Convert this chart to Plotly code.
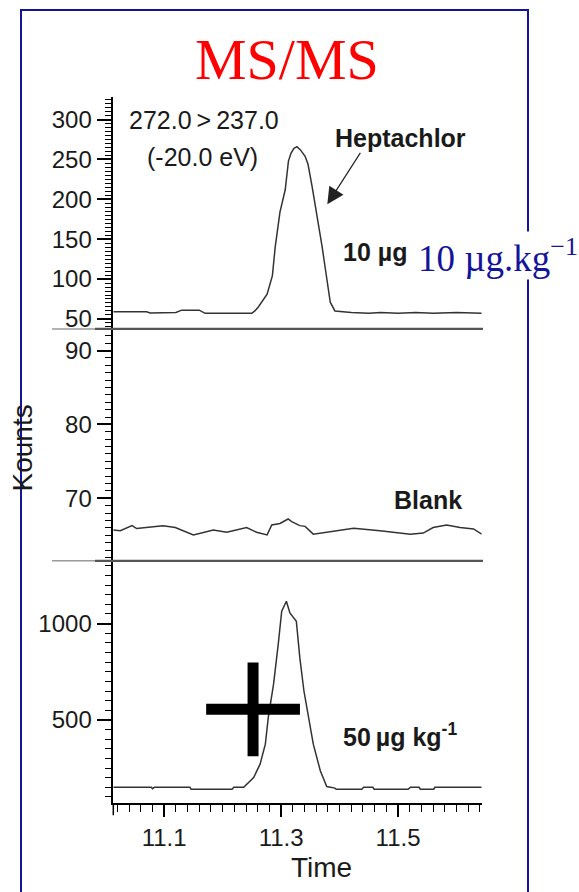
import plotly.graph_objects as go

W, H = 579, 892

# ---------------- data ----------------
# Top panel: 10 ug/kg Heptachlor, 272.0>237.0
t_top = [11.013, 11.07, 11.076, 11.10, 11.12, 11.13, 11.16, 11.17, 11.25, 11.255,
         11.261, 11.276, 11.285, 11.290, 11.298, 11.307, 11.3125, 11.317, 11.322,
         11.327, 11.333, 11.341, 11.346, 11.353, 11.362, 11.370, 11.379, 11.384,
         11.392, 11.42, 11.45, 11.47, 11.50, 11.53, 11.56, 11.60, 11.643]
c_top = [59, 59, 57.5, 57.5, 58, 61, 61, 57, 57, 60,
         65, 81, 104, 141, 184, 212, 248, 258, 264,
         266, 262, 254, 244, 216, 179, 141, 96, 71,
         60, 58, 57, 58, 57, 58, 57, 58, 57]

# Middle panel: blank
t_mid = [11.013, 11.025, 11.045, 11.053, 11.098, 11.119, 11.150, 11.184, 11.207,
         11.241, 11.258, 11.276, 11.284, 11.298, 11.312, 11.318, 11.332, 11.341,
         11.355, 11.378, 11.424, 11.469, 11.521, 11.543, 11.560, 11.583, 11.606,
         11.629, 11.643]
c_mid = [65.7, 65.6, 66.3, 65.9, 66.3, 66.05, 65.05, 65.7, 65.4,
         66.05, 65.4, 65.05, 66.4, 66.6, 67.2, 66.85, 66.3, 66.2,
         65.15, 65.4, 65.95, 65.6, 65.15, 65.3, 66.05, 66.4, 66.05,
         65.85, 65.15]

# Bottom panel: 50 ug/kg
t_bot = [11.013, 11.078, 11.080, 11.083, 11.144, 11.146, 11.216, 11.219, 11.236,
         11.241, 11.253, 11.264, 11.273, 11.278, 11.287, 11.295, 11.301, 11.309,
         11.315, 11.326, 11.332, 11.339, 11.347, 11.355, 11.367, 11.378, 11.392,
         11.394, 11.438, 11.441, 11.457, 11.459, 11.517, 11.521, 11.536, 11.538,
         11.561, 11.563, 11.643]
c_bot = [150, 150, 143, 150, 150, 140, 140, 150, 150,
         164, 201, 270, 374, 512, 684, 891, 1064, 1116,
         1055, 1012, 822, 650, 512, 374, 236, 154, 146,
         140, 140, 150, 150, 140, 140, 150, 150, 140,
         140, 150, 150]

# cross mark in bottom panel
cross_t = [11.252]
cross_c = [555]

x_range = [11.013, 11.643]
r_top = [37.5, 328.75]
r_mid = [61.54, 92.93]
r_bot = [67, 1326]

# ---------------- helpers ----------------
def px(x):
    return x / W

def py(y):
    return 1 - y / H

SANS = "Liberation Sans, Arial, sans-serif"
SERIF = "Liberation Serif, Times New Roman, serif"
LINE = "#333333"
TXT = "#1a1a1a"

fig = go.Figure()
fig.add_trace(go.Scatter(x=t_top, y=c_top, mode="lines", xaxis="x", yaxis="y",
                         line=dict(color=LINE, width=1.5), showlegend=False))
fig.add_trace(go.Scatter(x=t_mid, y=c_mid, mode="lines", xaxis="x", yaxis="y2",
                         line=dict(color=LINE, width=1.5), showlegend=False))
fig.add_trace(go.Scatter(x=t_bot, y=c_bot, mode="lines", xaxis="x", yaxis="y3",
                         line=dict(color=LINE, width=1.5), showlegend=False))
fig.add_trace(go.Scatter(x=cross_t, y=cross_c, mode="markers", xaxis="x", yaxis="y3",
                         marker=dict(symbol="cross-thin", size=67,
                                     line=dict(color="black", width=11)),
                         showlegend=False))

x0d, x1d = px(113.3), px(481.7)
d_top = [py(330), py(97)]
d_mid = [py(562.7), py(330)]
d_bot = [py(806), py(562.7)]

tickfont = dict(family=SANS, size=24, color=TXT)

def yaxis(domain, rng, dtick, mdtick):
    return dict(domain=domain, range=rng, anchor="x", showline=True, linecolor="black",
                linewidth=1.5, ticks="outside", ticklen=15, tickwidth=1.5, tickcolor="black",
                dtick=dtick, tick0=0, showgrid=False, zeroline=False, tickfont=tickfont,
                minor=dict(dtick=mdtick, ticks="outside", ticklen=7, tickwidth=1.2,
                           tickcolor="black", showgrid=False))

fig.update_layout(
    width=W, height=H, margin=dict(l=0, r=0, t=0, b=0),
    paper_bgcolor="white", plot_bgcolor="white",
    xaxis=dict(domain=[x0d, x1d], range=x_range, anchor="y3", showline=True,
               linecolor="black", linewidth=1.5, ticks="outside", ticklen=12,
               tickwidth=1.5, tickcolor="black", dtick=0.2, tick0=11.1,
               showgrid=False, zeroline=False, tickfont=tickfont,
               minor=dict(dtick=0.02, ticks="outside", ticklen=7, tickwidth=1.2,
                          tickcolor="black", showgrid=False)),
    yaxis=yaxis(d_top, r_top, 50, 5),
    yaxis2=yaxis(d_mid, r_mid, 10, 1),
    yaxis3=yaxis(d_bot, r_bot, 500, 50),
)

shapes = []
# blue frame
shapes.append(dict(type="rect", xref="paper", yref="paper", x0=px(21), x1=px(528),
                   y0=py(905), y1=py(10), line=dict(color="#14149a", width=2)))
# separators
for yy in (330, 562.7):
    shapes.append(dict(type="line", xref="paper", yref="paper", x0=px(52), x1=px(95),
                       y0=py(yy), y1=py(yy), line=dict(color="#9a9a9a", width=1.5)))
    shapes.append(dict(type="line", xref="paper", yref="paper", x0=px(95), x1=px(483),
                       y0=py(yy), y1=py(yy), line=dict(color="#555555", width=2.2)))
# y axis extension below x axis
shapes.append(dict(type="line", xref="paper", yref="paper", x0=x0d, x1=x0d,
                   y0=py(818), y1=py(806), line=dict(color="black", width=1.5)))
fig.update_layout(shapes=shapes)

ann = []
def text(s, x, y, size, bold=False, family=SANS, color=TXT, **kw):
    if bold:
        s = "<b>" + s + "</b>"
    d = dict(text=s, x=px(x), y=py(y), xref="paper", yref="paper", showarrow=False,
             xanchor="center", yanchor="middle", font=dict(family=family, size=size, color=color))
    d.update(kw)
    ann.append(d)

text("MS/MS", 287, 60, 58, family=SERIF, color="#ff0000")
text("272.0\u2009&gt;\u2009237.0", 204, 120, 25)
text("(-20.0 eV)", 202, 158, 25)
text("Heptachlor", 400, 138, 25, bold=True)
text("10 µg", 375, 253, 25, bold=True)
text("Blank", 428, 502, 25, bold=True)
text("50\u2009µg kg<sup>-1</sup>", 400, 737, 25, bold=True)
text("Kounts", 22, 450, 28, textangle=-90)
text("Time", 321, 870, 28)
text("10 µg.kg<sup>−1</sup>", 417, 256, 37, family=SERIF, color="#14149a",
     xanchor="left", bgcolor="white", borderpad=0)

# arrow to the peak
ann.append(dict(x=11.379, y=193.75, xref="x", yref="y", ax=34, ay=-53, text="",
                showarrow=True, arrowhead=2, arrowsize=2.8, arrowwidth=1.2,
                arrowcolor="#222222"))
fig.update_layout(annotations=ann)

fig.write_html("out.html")
